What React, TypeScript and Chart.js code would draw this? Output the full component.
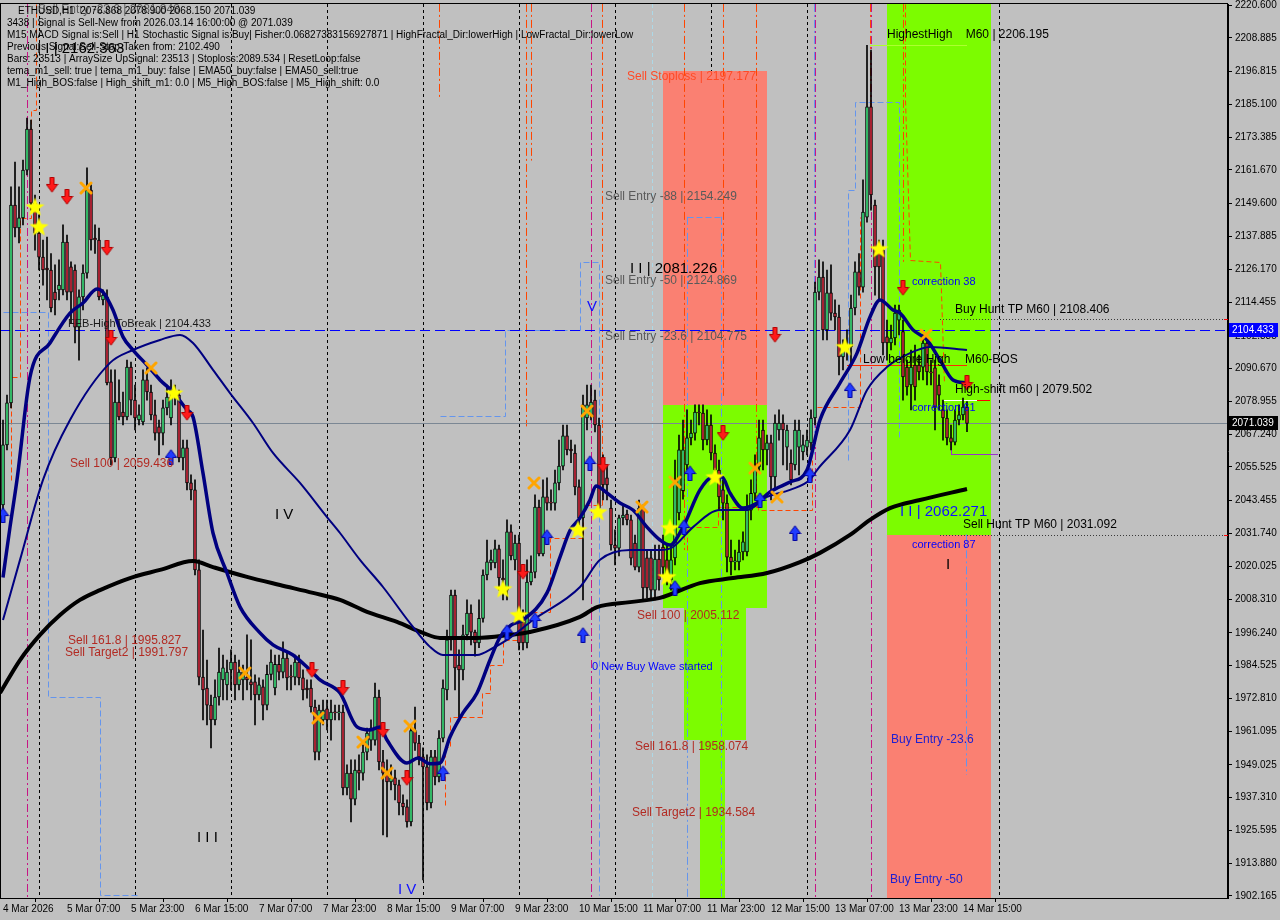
import React, { useEffect, useRef } from "react";
import { Chart, registerables } from "chart.js";

Chart.register(...registerables);

// ---------- axis data ----------
const xTickIdx = [0, 16, 32, 48, 64, 80, 96, 112, 128, 144, 160, 176, 192, 208, 224, 240];
const xTickText = [
  "4 Mar 2026", "5 Mar 07:00", "5 Mar 23:00", "6 Mar 15:00", "7 Mar 07:00", "7 Mar 23:00",
  "8 Mar 15:00", "9 Mar 07:00", "9 Mar 23:00", "10 Mar 15:00", "11 Mar 07:00", "11 Mar 23:00",
  "12 Mar 15:00", "13 Mar 07:00", "13 Mar 23:00", "14 Mar 15:00",
];
const yTickValues = [
  2220.6, 2208.885, 2196.815, 2185.1, 2173.385, 2161.67, 2149.6, 2137.885, 2126.17, 2114.455,
  2102.385, 2090.67, 2078.955, 2067.24, 2055.525, 2043.455, 2031.74, 2020.025, 2008.31, 1996.24,
  1984.525, 1972.81, 1961.095, 1949.025, 1937.31, 1925.595, 1913.88, 1902.165,
];
const yMin = 1901.45;
const yMax = 2220.96;
const xMin = -0.75;
const xMax = 306.25;

// ---------- candles: [open, high, low, close], one per H1 bar ----------
const ohlc: number[][] = [
  [2041.9, 2072.3, 2040.1, 2063.4], [2063.4, 2081.2, 2061.6, 2078.4], [2078.4, 2155.6, 2076.6, 2149.1], [2149.1, 2164.5, 2137.7, 2140.9],
  [2140.9, 2155.6, 2135.6, 2144.5], [2144.5, 2165.2, 2142.0, 2161.6], [2161.6, 2180.2, 2159.9, 2176.3], [2176.3, 2179.5, 2147.3, 2149.8],
  [2149.8, 2152.7, 2133.0, 2139.1], [2139.1, 2145.6, 2125.9, 2130.5], [2130.5, 2136.6, 2120.5, 2125.9], [2126.6, 2137.7, 2115.2, 2125.9],
  [2125.9, 2131.8, 2110.9, 2112.3], [2118.0, 2127.7, 2109.8, 2115.2], [2118.8, 2129.5, 2115.2, 2120.5], [2118.8, 2142.0, 2117.0, 2135.9],
  [2135.9, 2138.4, 2115.2, 2118.0], [2127.0, 2128.8, 2107.0, 2118.0], [2125.9, 2127.7, 2099.8, 2105.5], [2105.5, 2118.8, 2093.7, 2116.3],
  [2116.3, 2127.7, 2111.6, 2124.8], [2124.8, 2162.4, 2123.0, 2154.5], [2154.5, 2156.3, 2133.0, 2136.6], [2137.3, 2142.0, 2131.8, 2136.6],
  [2136.6, 2140.9, 2115.2, 2116.3], [2115.2, 2118.8, 2113.4, 2116.9], [2116.3, 2118.8, 2084.8, 2085.5], [2085.9, 2090.2, 2056.2, 2058.7],
  [2058.7, 2090.2, 2057.3, 2078.7], [2078.7, 2086.6, 2072.3, 2073.4], [2075.1, 2082.3, 2070.5, 2073.4], [2073.4, 2093.7, 2072.3, 2091.2],
  [2091.2, 2093.0, 2074.1, 2079.4], [2079.4, 2084.8, 2068.7, 2073.0], [2072.3, 2077.7, 2070.5, 2074.1], [2071.6, 2090.2, 2070.5, 2086.6],
  [2086.6, 2090.9, 2079.4, 2082.3], [2082.3, 2084.8, 2072.3, 2074.1], [2074.1, 2079.4, 2065.1, 2067.6], [2069.8, 2072.3, 2059.8, 2067.6],
  [2067.6, 2079.4, 2063.4, 2076.6], [2076.6, 2084.8, 2074.1, 2080.5], [2073.0, 2086.6, 2070.5, 2080.5], [2080.5, 2084.8, 2077.7, 2082.3],
  [2081.2, 2083.0, 2057.3, 2058.7], [2058.7, 2065.1, 2054.4, 2062.3], [2062.3, 2065.1, 2047.3, 2049.8], [2049.8, 2052.7, 2043.7, 2047.3],
  [2047.3, 2050.9, 2016.9, 2018.7], [2018.7, 2022.3, 1977.6, 1980.4], [1980.4, 1997.2, 1965.1, 1975.8], [1976.5, 1986.5, 1963.3, 1970.4],
  [1970.4, 1974.0, 1955.1, 1965.1], [1965.1, 1979.4, 1963.3, 1973.3], [1973.3, 1990.8, 1970.4, 1982.2], [1979.4, 1988.3, 1972.2, 1983.7],
  [1977.6, 1986.5, 1972.2, 1982.2], [1983.0, 1990.1, 1975.8, 1985.8], [1985.8, 1988.3, 1972.2, 1977.6], [1977.6, 1986.5, 1975.8, 1982.2],
  [1979.4, 1984.7, 1972.2, 1982.2], [1980.4, 1995.5, 1975.8, 1979.4], [1978.7, 1993.7, 1972.2, 1977.6], [1978.7, 1981.2, 1963.3, 1974.0],
  [1974.0, 1980.1, 1972.2, 1977.6], [1976.9, 1979.4, 1965.1, 1970.4], [1970.4, 1984.7, 1968.7, 1981.4], [1981.4, 1990.1, 1979.4, 1985.8],
  [1976.5, 1988.3, 1974.0, 1985.0], [1985.0, 1988.3, 1979.4, 1982.2], [1982.2, 1993.0, 1980.1, 1987.2], [1987.2, 1989.0, 1975.8, 1980.1],
  [1980.7, 1984.7, 1975.8, 1980.4], [1980.4, 1988.3, 1977.6, 1985.8], [1985.8, 1988.3, 1977.6, 1980.1], [1980.1, 1983.0, 1972.2, 1975.8],
  [1976.5, 1979.4, 1972.9, 1975.8], [1976.5, 1979.4, 1967.9, 1969.7], [1969.7, 1972.2, 1950.8, 1953.6], [1953.6, 1970.4, 1950.8, 1968.6],
  [1965.1, 1972.2, 1963.3, 1968.6], [1969.1, 1972.2, 1961.5, 1965.1], [1965.1, 1972.2, 1957.9, 1967.9], [1967.9, 1970.4, 1965.1, 1967.6],
  [1967.6, 1970.4, 1965.1, 1967.9], [1967.9, 1970.4, 1938.3, 1940.8], [1940.8, 1949.0, 1938.3, 1946.1], [1946.1, 1950.8, 1928.6, 1936.8],
  [1936.8, 1950.8, 1934.7, 1947.2], [1947.2, 1952.6, 1940.1, 1946.1], [1946.1, 1956.2, 1943.6, 1953.6], [1953.6, 1962.2, 1950.8, 1960.4],
  [1957.9, 1965.1, 1954.2, 1962.2], [1957.9, 1978.3, 1956.1, 1973.3], [1973.3, 1975.8, 1947.2, 1950.1], [1950.1, 1954.2, 1924.0, 1946.1],
  [1946.1, 1950.8, 1923.3, 1942.9], [1942.9, 1949.0, 1940.1, 1944.4], [1944.4, 1947.2, 1936.5, 1941.9], [1941.9, 1943.6, 1931.1, 1935.4],
  [1935.4, 1938.3, 1931.1, 1934.0], [1934.0, 1936.5, 1926.8, 1928.6], [1928.6, 1963.3, 1927.2, 1961.3], [1961.3, 1969.7, 1954.2, 1956.8],
  [1956.8, 1959.6, 1949.0, 1951.9], [1951.9, 1955.1, 1907.9, 1948.3], [1948.3, 1952.6, 1932.9, 1935.4], [1935.4, 1954.2, 1933.6, 1951.9],
  [1951.9, 1954.2, 1941.9, 1944.7], [1944.7, 1961.3, 1942.9, 1958.6], [1958.6, 1979.4, 1957.2, 1976.5], [1975.8, 1997.2, 1972.2, 1993.7],
  [1993.7, 2011.5, 1990.0, 2009.7], [2009.7, 2011.5, 1975.8, 1983.7], [1984.7, 1990.1, 1966.2, 1983.0], [1983.0, 1999.0, 1979.4, 1995.5],
  [1995.5, 2008.0, 1993.7, 2003.3], [2003.3, 2006.2, 1991.9, 1996.5], [1996.5, 1997.2, 1987.9, 1992.6], [1992.6, 2008.0, 1990.9, 2001.4],
  [2001.4, 2018.7, 2000.0, 2016.9], [2016.9, 2029.4, 2015.1, 2021.6], [2021.2, 2025.8, 2018.7, 2022.3], [2021.2, 2029.4, 2019.4, 2026.2],
  [2026.2, 2027.6, 2011.5, 2015.8], [2015.8, 2022.3, 2008.0, 2015.1], [2011.5, 2036.6, 2008.0, 2032.3], [2032.3, 2034.8, 2022.3, 2023.7],
  [2022.3, 2031.2, 2018.7, 2028.3], [2028.3, 2031.2, 1990.1, 1992.6], [2000.1, 2004.4, 1990.1, 1992.6], [1992.6, 2022.3, 1990.8, 2014.4],
  [2014.4, 2023.7, 2013.3, 2017.9], [2017.9, 2045.5, 2015.8, 2041.2], [2041.2, 2043.7, 2023.7, 2024.4], [2024.4, 2050.9, 2023.7, 2044.8],
  [2044.8, 2051.6, 2040.1, 2042.6], [2042.9, 2047.3, 2040.1, 2042.6], [2042.6, 2054.4, 2040.1, 2049.8], [2049.8, 2065.1, 2047.3, 2055.8],
  [2055.8, 2070.5, 2054.4, 2066.6], [2066.6, 2070.5, 2059.8, 2061.6], [2061.9, 2065.1, 2057.0, 2061.2], [2060.5, 2063.4, 2045.5, 2048.4],
  [2048.4, 2050.9, 2034.8, 2037.3], [2037.3, 2081.2, 2008.0, 2077.7], [2073.0, 2084.8, 2068.7, 2077.7], [2074.1, 2084.8, 2072.3, 2078.7],
  [2079.4, 2083.0, 2068.0, 2070.5], [2070.5, 2073.0, 2039.4, 2040.8], [2054.4, 2059.8, 2043.7, 2049.1], [2051.6, 2056.2, 2043.7, 2049.1],
  [2040.8, 2043.7, 2025.8, 2027.6], [2027.6, 2033.0, 2020.5, 2026.5], [2026.5, 2038.3, 2023.7, 2037.3], [2037.3, 2041.9, 2034.8, 2038.3],
  [2038.7, 2040.1, 2034.8, 2036.6], [2036.6, 2038.3, 2020.5, 2022.9], [2028.3, 2031.2, 2018.7, 2019.7], [2019.7, 2043.7, 2018.0, 2040.8],
  [2040.8, 2041.9, 2008.0, 2012.3], [2023.0, 2025.8, 2008.7, 2012.3], [2023.0, 2025.8, 2008.0, 2011.5], [2011.5, 2027.6, 2008.0, 2022.6],
  [2022.6, 2027.6, 2011.5, 2015.1], [2026.9, 2031.2, 2016.9, 2019.7], [2022.3, 2027.6, 2013.3, 2016.9], [2015.1, 2027.6, 2011.5, 2022.3],
  [2023.0, 2058.0, 2020.5, 2050.9], [2039.1, 2066.9, 2036.6, 2061.6], [2047.0, 2072.3, 2044.0, 2061.6], [2056.2, 2075.9, 2054.4, 2065.9],
  [2065.9, 2072.3, 2063.4, 2067.6], [2067.6, 2077.7, 2065.1, 2075.1], [2075.1, 2077.7, 2070.5, 2074.8], [2074.8, 2077.7, 2061.6, 2065.2],
  [2065.2, 2075.9, 2063.4, 2070.5], [2070.5, 2074.1, 2058.0, 2060.5], [2060.5, 2063.4, 2050.9, 2054.4], [2054.4, 2058.0, 2040.1, 2044.8],
  [2047.3, 2050.9, 2036.6, 2042.6], [2042.6, 2045.5, 2018.0, 2023.3], [2023.3, 2029.4, 2016.9, 2021.6], [2021.6, 2025.8, 2018.7, 2021.9],
  [2021.6, 2029.4, 2018.7, 2025.1], [2025.1, 2032.3, 2022.3, 2028.7], [2025.1, 2045.5, 2023.7, 2040.1], [2040.1, 2050.9, 2036.6, 2046.1],
  [2046.1, 2059.8, 2043.7, 2055.5], [2055.5, 2072.3, 2053.7, 2065.9], [2068.7, 2072.3, 2054.4, 2061.6], [2061.6, 2066.9, 2056.2, 2064.1],
  [2064.1, 2066.9, 2043.7, 2051.9], [2051.9, 2074.1, 2047.3, 2071.2], [2068.7, 2075.9, 2065.1, 2071.2], [2071.2, 2074.1, 2056.2, 2068.7],
  [2062.6, 2070.5, 2054.4, 2068.7], [2056.9, 2061.6, 2049.1, 2050.9], [2056.2, 2072.3, 2054.4, 2068.7], [2062.6, 2072.3, 2052.7, 2068.7],
  [2060.9, 2066.9, 2058.0, 2063.4], [2062.6, 2068.7, 2059.8, 2065.1], [2064.1, 2075.9, 2061.6, 2073.0], [2073.0, 2121.6, 2070.5, 2118.0],
  [2118.0, 2129.5, 2115.2, 2123.4], [2123.4, 2128.8, 2100.9, 2104.5], [2104.5, 2125.9, 2100.9, 2117.7], [2117.7, 2127.7, 2108.0, 2110.5],
  [2110.5, 2115.2, 2104.5, 2109.1], [2109.1, 2113.4, 2088.4, 2094.8], [2094.8, 2100.9, 2090.2, 2097.3], [2097.3, 2104.5, 2093.7, 2098.4],
  [2098.4, 2116.9, 2091.9, 2112.3], [2112.3, 2128.8, 2109.8, 2125.2], [2125.2, 2131.8, 2116.9, 2119.8], [2119.8, 2158.1, 2118.0, 2146.6],
  [2144.8, 2206.2, 2143.0, 2184.2], [2184.2, 2204.5, 2147.3, 2152.7], [2149.1, 2150.9, 2116.9, 2127.0], [2134.1, 2136.6, 2115.2, 2127.0],
  [2133.0, 2136.6, 2095.5, 2099.8], [2102.0, 2108.0, 2093.7, 2099.8], [2099.8, 2106.2, 2097.3, 2101.6], [2101.6, 2113.4, 2099.1, 2110.5],
  [2108.0, 2113.4, 2102.7, 2111.6], [2103.9, 2108.0, 2079.4, 2087.7], [2091.2, 2093.7, 2081.2, 2084.1], [2084.8, 2097.3, 2075.9, 2091.2],
  [2091.9, 2099.1, 2079.4, 2084.1], [2091.9, 2095.5, 2086.6, 2089.5], [2091.2, 2102.7, 2086.6, 2099.8], [2099.8, 2100.9, 2084.8, 2089.5],
  [2089.5, 2093.7, 2084.8, 2089.1], [2090.9, 2093.7, 2068.7, 2076.9], [2084.8, 2088.4, 2075.9, 2081.2], [2075.9, 2079.4, 2065.1, 2073.0],
  [2073.0, 2075.9, 2063.4, 2065.9], [2065.9, 2070.5, 2061.6, 2064.4], [2064.4, 2075.9, 2063.4, 2072.3], [2072.3, 2077.7, 2070.5, 2074.1],
  [2074.1, 2080.1, 2072.3, 2076.9], [2076.868, 2078.9, 2068.15, 2071.039],
];

// ---------- moving averages: [bar index, price] ----------
const fastMa: number[][] = [
  [0, 2016.0], [1.75, 2034.0], [3.5, 2050.9], [6.75, 2087.7], [11.75, 2099.8], [16.75, 2110.5], [20, 2114.1], [23.5, 2119.1],
  [25, 2118.0], [27.5, 2111.6], [30, 2102.0], [32.5, 2097.3], [36, 2091.9], [39.25, 2086.6], [42.5, 2082.3], [46, 2075.9],
  [47.5, 2073.4], [50, 2053.3], [52.5, 2031.9], [56, 2017.6], [59.25, 2005.5], [64.25, 1996.2], [67.5, 1991.9], [72.5, 1988.3],
  [76, 1984.0], [79.25, 1979.4], [84.25, 1974.7], [88.5, 1962.6], [91.75, 1961.5], [94.25, 1962.6], [96, 1957.9], [101, 1949.7],
  [103.75, 1951.5], [106.75, 1949.4], [109.25, 1949.7], [111.75, 1959.0], [115, 1967.6], [118.5, 1974.7], [121.75, 1986.5],
  [124.25, 1994.7], [127, 1999.0], [130, 2000.8], [136, 2010.5], [139.25, 2023.3], [141.75, 2032.8], [144.25, 2037.3],
  [146.75, 2043.7], [148.25, 2048.7], [151, 2046.2], [154.25, 2042.6], [157.5, 2040.1], [161, 2034.0], [164.25, 2029.4],
  [166.75, 2027.6], [170, 2034.0], [174.25, 2047.3], [177.5, 2051.9], [179.75, 2051.9], [181.75, 2046.2], [185, 2040.8],
  [188.5, 2042.6], [191.75, 2046.6], [196.75, 2050.1], [201, 2054.4], [204.25, 2072.3], [209.25, 2085.5], [213.5, 2096.2],
  [216.75, 2109.1], [219.25, 2115.2], [222.5, 2111.6], [224.25, 2110.5], [227.5, 2104.5], [231, 2100.9], [234.25, 2093.7],
  [237.5, 2086.6], [241, 2085.5],
];
const slowMa: number[][] = [
  [0, 2000.8], [4.25, 2022.3], [10, 2050.9], [16.75, 2072.3], [26.75, 2092.7], [32.5, 2097.3], [39.25, 2100.9], [44.25, 2102.7],
  [47.5, 2099.8], [52.5, 2090.2], [56.75, 2081.9], [62.5, 2071.2], [67.5, 2060.5], [74.25, 2049.8], [81, 2037.6], [84.25, 2031.9],
  [89.25, 2022.3], [95, 2012.6], [101.75, 1999.7], [106.75, 1991.2], [110, 1988.3], [118.5, 1988.3], [122.5, 1990.8], [126, 1993.7],
  [132.5, 2000.8], [144.25, 2012.6], [149.25, 2022.3], [156.75, 2025.8], [164.25, 2025.8], [167.5, 2026.9], [172.5, 2034.0],
  [179.25, 2040.1], [186, 2040.1], [191, 2044.8], [196.75, 2047.3], [201.75, 2050.9], [203.5, 2054.4], [211.75, 2068.7],
  [216, 2083.0], [221, 2091.2], [226.75, 2096.2], [231.75, 2098.4], [241, 2097.3],
];
const longMa: number[][] = [
  [-0.75, 1974.7], [4.25, 1986.5], [9.25, 1995.5], [14.25, 2002.6], [19.25, 2008.0], [24.25, 2011.5], [31.75, 2015.8],
  [39.25, 2018.7], [47.5, 2021.9], [52.5, 2019.7], [61, 2016.2], [69.25, 2013.3], [77.5, 2010.5], [84.25, 2008.0], [91, 2003.7],
  [98.5, 2000.1], [105, 1996.2], [109.25, 1994.4], [118.5, 1994.4], [126.75, 1995.5], [131.75, 1996.5], [144.25, 2001.9],
  [148.5, 2005.4], [156.75, 2007.2], [164.25, 2008.7], [174.25, 2014.0], [182.5, 2015.8], [191, 2017.6], [199.25, 2021.5],
  [204.25, 2024.8], [211.75, 2031.2], [216.75, 2036.6], [221.75, 2040.8], [229.25, 2043.7], [241, 2047.6],
];

// ---------- signal markers: [bar index, price] ----------
const sellArrows: number[][] = [
  [12.25, 2156.3], [16, 2152.0], [26, 2133.8], [27, 2101.6], [46, 2074.8], [77.25, 1982.9], [85, 1976.5], [95, 1961.5],
  [101, 1944.3], [130, 2018.0], [150, 2056.2], [180, 2067.6], [193, 2102.7], [225, 2119.5], [241, 2085.5],
];
const buyArrows: number[][] = [
  [0, 2038.3], [42, 2059.1], [110, 1946.1], [126, 1996.5], [133, 2000.8], [136, 2030.5], [145, 1995.5], [146.75, 2056.9],
  [168, 2012.3], [170.25, 2034.0], [171.75, 2053.3], [189.25, 2043.7], [198, 2031.9], [201.75, 2052.6], [211.75, 2083.0],
];
const stars: number[][] = [
  [8, 2148.4], [9, 2141.3], [42.75, 2081.9], [125, 2011.9], [129, 2002.6], [143.75, 2033.0], [148.75, 2039.4],
  [166.75, 2033.7], [166, 2016.2], [178, 2051.9], [210.5, 2098.4], [219, 2133.4],
];
const crosses: number[][] = [
  [20.75, 2155.2], [37, 2090.9], [60.5, 1981.9], [78.75, 1965.8], [90, 1957.2], [96, 1946.1], [101.75, 1962.9],
  [132.75, 2049.8], [146, 2075.5], [159.75, 2041.2], [168, 2050.1], [188, 2055.1], [193.5, 2044.8], [230.75, 2102.7],
];

// ---------- zones: [fromIdx, toIdx, lowPrice, highPrice] ----------
const salmonZones: number[][] = [
  [165, 191, 2077.6, 2197.177], [221, 247, 1901, 2031.092],
];
const greenZones: number[][] = [
  [165, 191, 2005.112, 2077.6], [170.25, 185.75, 1958.074, 2005.112], [174.25, 180.5, 1901, 1958.074], [221, 247, 2031.092, 2221],
];

// ---------- levels ----------
const bidPrice = 2071.039;
const breakPrice = 2104.433;
const dottedLevels: number[][] = [[234.25, 306.25, 2108.406], [234.25, 306.25, 2031.092]]; // [from, to, price]
const lowBeforeHigh = [211, 241, 2091.9];
const highestHigh = [216.75, 241, 2206.195];
const highShiftWhite = [235, 243.5, 2079.502];
const highShiftRed = [243.5, 246.75, 2079.502];
const purpleLevel = [237, 248.75, 2060.1];

// ---------- vertical lines ----------
const daySeparators = [9, 33, 57, 81, 105, 129, 153, 177, 201, 225, 249];
const magentaVerticals = [6, 147, 203, 217];
const lightBlueVerticals = [162.25];
const orangeVerticals: number[][] = [ // [idx, fromPrice, toPrice]
  [109, 2221, 2186.7], [130.75, 2221, 2070.0], [132, 2221, 2165.0], [149.75, 2221, 2041.9], [170.25, 2221, 2025.8],
  [180, 2221, 2080.0], [188.25, 2221, 2040.1], [216.75, 2221, 2170.0], [225, 2221, 2128.8],
];
const blueVerticals: number[][] = [
  [171, 2144.9, 1901], [179.5, 2144.9, 1901], [202.75, 2221, 2060.0], [240.75, 2031.4, 1945.4],
];
const orangeSteps: number[][][] = [
  [[2, 2050.9], [2, 2087.7], [4.25, 2087.7], [4.25, 2144.5], [7, 2144.5], [7, 2183.1], [8.25, 2183.1], [8.25, 2221]],
  [[110.5, 1934.7], [110.5, 1955.4], [111.75, 1955.4], [111.75, 1966.2], [119.75, 1966.2], [119.75, 1974.7], [121.75, 1974.7],
   [121.75, 1984.7], [125, 1984.7], [125, 1993.7], [128.75, 1993.7], [128.75, 2003.7], [136.75, 2003.7], [136.75, 2030.1],
   [145, 2030.1], [145, 2041.9], [149.75, 2041.9]],
  [[171, 2025.8], [171, 2034.0], [178.75, 2034.0], [178.75, 2041.2], [188.75, 2041.2], [188.75, 2040.1], [202.25, 2040.1], [202.25, 2058.0]],
  [[203.5, 2076.9], [214.25, 2076.9], [214.25, 2144.8]],
  [[225.5, 2221], [225.5, 2186.7], [226.75, 2129.5], [234.25, 2128.8], [235.25, 2085.5]],
];
const blueSteps: number[][][] = [
  [[0, 2110.9], [11.25, 2110.9], [11.25, 1973.3], [24.25, 1973.3], [24.25, 1902.5], [34.25, 1902.5]],
  [[109.25, 2073.7], [125.5, 2073.7], [125.5, 2104.5], [144.25, 2104.5], [144.25, 2128.8], [149, 2128.8], [149, 1902.5]],
  [[171, 2144.9], [179.5, 2144.9]],
  [[211.25, 2058.0], [211.25, 2154.5], [213, 2154.5], [213, 2185.9], [224, 2185.9], [224, 2065.1]],
];

// ---------- text labels: [text, bar index, price] ----------
const sellLabels: any[] = [
  ["Sell 100 | 2059.436", 16.75, 2056.6], ["Sell 161.8 | 1995.827", 16.25, 1993.3], ["Sell Target2 | 1991.797", 15.5, 1989.0],
  ["Sell 100 | 2005.112", 158.5, 2002.2], ["Sell 161.8 | 1958.074", 158, 1955.4], ["Sell Target2 | 1934.584", 157.25, 1931.8],
];
const stoplossLabels: any[] = [["Sell Stoploss | 2197.177", 156, 2194.9]];
const entryLabels: any[] = [
  ["Sell Entry -23.6 | 2081.848", 8.75, 2219.0],
  ["Sell Entry -88 | 2154.249", 150.5, 2152.0], ["Sell Entry -50 | 2124.869", 150.5, 2121.9], ["Sell Entry -23.6 | 2104.775", 150.5, 2101.9],
];
const blackLabels: any[] = [
  ["FEB-HighToBreak | 2104.433", 16.25, 2106.6], ["HighestHigh    M60 | 2206.195", 221, 2209.9],
  ["Buy Hunt TP M60 | 2108.406", 238, 2111.6], ["Low before High", 215, 2093.7], ["M60-BOS", 240.5, 2093.7],
  ["High-shift m60 | 2079.502", 238, 2083.0], ["Sell Hunt TP M60 | 2031.092", 240, 2034.8],
];
const waveLabels: any[] = [
  ["I I | 2162.363", 8.5, 2204.8], ["I I | 2081.226", 156.75, 2126.3], ["I V", 68, 2038.3], ["I I I", 48.5, 1922.9], ["I", 235.75, 2020.5],
];
const blueWaveLabels: any[] = [["I I | 2062.271", 224.25, 2039.4], ["I V", 98.75, 1904.3], ["V", 146, 2112.7]];
const blueSmallLabels: any[] = [
  ["correction 38", 227.25, 2121.6], ["correction 61", 227.25, 2076.6], ["correction 87", 227.25, 2027.6],
  ["0 New Buy Wave started", 147.25, 1984.0],
];
const buyEntryLabels: any[] = [["Buy Entry -23.6", 222, 1957.9], ["Buy Entry -50", 221.75, 1907.9]];

const infoLines = [
  "ETHUSD,H1  2076.868 2078.900 2068.150 2071.039",
  "3438 | Signal is Sell-New from 2026.03.14 16:00:00 @ 2071.039",
  "M15 MACD Signal is:Sell | H1 Stochastic Signal is:Buy| Fisher:0.06827383156927871 | HighFractal_Dir:lowerHigh | LowFractal_Dir:lowerLow",
  "Previous Signal:Sell-Stop-Taken from: 2102.490",
  "Bars: 23513 | ArraySize UpSignal: 23513 | Stoploss:2089.534 | ResetLoop:false",
  "tema_m1_sell: true | tema_m1_buy: false | EMA50_buy:false | EMA50_sell:true",
  "M1_High_BOS:false | High_shift_m1: 0.0 | M5_High_BOS:false | M5_High_shift: 0.0",
];

const FONT = '"Liberation Sans", Arial, sans-serif';

function makeArrow(fill: string, edge: string, up: boolean) {
  const c = document.createElement("canvas");
  c.width = 13; c.height = 16;
  const g = c.getContext("2d")!;
  if (up) { g.translate(0, 16); g.scale(1, -1); }
  g.beginPath();
  g.moveTo(4.5, 0.5); g.lineTo(8.5, 0.5); g.lineTo(8.5, 7.5); g.lineTo(12.2, 7.5);
  g.lineTo(6.5, 15.2); g.lineTo(0.8, 7.5); g.lineTo(4.5, 7.5); g.closePath();
  g.fillStyle = fill; g.fill();
  g.strokeStyle = edge; g.lineWidth = 1; g.stroke();
  return c;
}
function makeStar() {
  const c = document.createElement("canvas");
  c.width = 21; c.height = 21;
  const g = c.getContext("2d")!;
  g.beginPath();
  for (let k = 0; k < 10; k++) {
    const r = k % 2 === 0 ? 10 : 4.2;
    const a = -Math.PI / 2 + (k * Math.PI) / 5;
    const px = 10.5 + r * Math.cos(a), py = 11 + r * Math.sin(a);
    if (k === 0) g.moveTo(px, py); else g.lineTo(px, py);
  }
  g.closePath();
  g.fillStyle = "#ffff00"; g.fill();
  return c;
}
function makeCross() {
  const c = document.createElement("canvas");
  c.width = 14; c.height = 14;
  const g = c.getContext("2d")!;
  g.strokeStyle = "#ffa500"; g.lineWidth = 3; g.lineCap = "round";
  g.beginPath(); g.moveTo(2, 2); g.lineTo(12, 12); g.moveTo(12, 2); g.lineTo(2, 12); g.stroke();
  return c;
}

const overlay = {
  id: "mt4overlay",
  beforeDraw(chart: any) {
    const { ctx, width, height } = chart;
    ctx.save();
    ctx.fillStyle = "#c0c0c0";
    ctx.fillRect(0, 0, width, height);
    ctx.restore();
  },
  beforeDatasetsDraw(chart: any) {
    const { ctx, chartArea: a, scales } = chart;
    const X = (v: number) => scales.x.getPixelForValue(v);
    const Y = (v: number) => scales.y.getPixelForValue(v);
    const sx = (v: number) => Math.round(X(v)) + 0.5;
    const sy = (v: number) => Math.round(Y(v)) + 0.5;
    ctx.save();
    ctx.beginPath();
    ctx.rect(a.left, a.top, a.right - a.left, a.bottom - a.top);
    ctx.clip();
    ctx.lineWidth = 1;
    const vline = (i: number, p1: number, p2: number, color: string, dash: number[]) => {
      ctx.strokeStyle = color; ctx.setLineDash(dash);
      ctx.beginPath(); ctx.moveTo(sx(i), Y(p1)); ctx.lineTo(sx(i), Y(p2)); ctx.stroke();
    };
    const hline = (i1: number, i2: number, p: number, color: string, dash: number[], w = 1) => {
      ctx.strokeStyle = color; ctx.setLineDash(dash); ctx.lineWidth = w;
      ctx.beginPath(); ctx.moveTo(X(i1), sy(p)); ctx.lineTo(X(i2), sy(p)); ctx.stroke();
      ctx.lineWidth = 1;
    };
    const poly = (pts: number[][], color: string, dash: number[]) => {
      ctx.strokeStyle = color; ctx.setLineDash(dash);
      ctx.beginPath();
      pts.forEach((q, k) => { if (k === 0) ctx.moveTo(sx(q[0]), sy(q[1])); else ctx.lineTo(sx(q[0]), sy(q[1])); });
      ctx.stroke();
    };
    daySeparators.forEach((i) => vline(i, yMax, yMin, "#000000", [3, 3]));
    const zone = (z: number[], color: string) => {
      ctx.fillStyle = color;
      const x1 = Math.round(X(z[0])), x2 = Math.round(X(z[1]));
      const y1 = Math.round(Y(z[3])), y2 = Math.round(Y(z[2]));
      ctx.fillRect(x1, y1, x2 - x1, y2 - y1);
    };
    salmonZones.forEach((z) => zone(z, "#fa8072"));
    greenZones.forEach((z) => zone(z, "#7cfc00"));
    magentaVerticals.forEach((i) => vline(i, yMax, yMin, "#c71585", [8, 3, 2, 3]));
    lightBlueVerticals.forEach((i) => vline(i, yMax, yMin, "#add8e6", [4, 3]));
    orangeVerticals.forEach((v) => vline(v[0], v[1], v[2], "#ff4500", [8, 3, 2, 3]));
    blueVerticals.forEach((v) => vline(v[0], v[1], v[2], "#6495ed", [8, 3, 2, 3]));
    orangeSteps.forEach((s) => poly(s, "#ff4500", [5, 3]));
    blueSteps.forEach((s) => poly(s, "#6495ed", [6, 3]));
    hline(xMin, xMax, bidPrice, "#7b8794", []);
    hline(xMin, xMax, breakPrice, "#0000ff", [10, 5]);
    dottedLevels.forEach((d) => hline(d[0], d[1], d[2], "#3a3a3a", [1, 2]));
    hline(lowBeforeHigh[0], lowBeforeHigh[1], lowBeforeHigh[2], "#ff2a00", []);
    hline(highestHigh[0], highestHigh[1], highestHigh[2], "#adff2f", []);
    hline(highShiftWhite[0], highShiftWhite[1], highShiftWhite[2], "#ffffff", []);
    hline(highShiftRed[0], highShiftRed[1], highShiftRed[2], "#ff0000", []);
    hline(purpleLevel[0], purpleLevel[1], purpleLevel[2], "#9932cc", []);
    vline(purpleLevel[0], 2064.4, purpleLevel[2], "#9932cc", []);
    ctx.restore();
  },
  afterDatasetsDraw(chart: any) {
    const { ctx, chartArea: a, scales } = chart;
    const X = (v: number) => scales.x.getPixelForValue(v);
    const Y = (v: number) => scales.y.getPixelForValue(v);
    ctx.save();
    ctx.beginPath();
    ctx.rect(a.left, a.top, a.right - a.left, a.bottom - a.top);
    ctx.clip();
    ctx.textAlign = "left";
    ctx.textBaseline = "middle";
    const put = (list: any[], color: string, size: number) => {
      ctx.fillStyle = color;
      ctx.font = `${size}px ${FONT}`;
      list.forEach((t) => ctx.fillText(t[0], X(t[1]), Y(t[2])));
    };
    put(entryLabels, "#5a5a5a", 12);
    put(sellLabels, "#b22a22", 12);
    put(stoplossLabels, "#ff4a26", 12);
    put(blackLabels.slice(0, 1), "#1a1a1a", 11);
    put(blackLabels.slice(1), "#000000", 12);
    put(waveLabels, "#000000", 15);
    put(blueWaveLabels, "#1010ff", 15);
    put(blueSmallLabels, "#0000ff", 11);
    put(buyEntryLabels, "#2020d0", 12);
    ctx.restore();
  },
  afterDraw(chart: any) {
    const { ctx, chartArea: a, scales } = chart;
    const Y = (v: number) => scales.y.getPixelForValue(v);
    ctx.save();
    ctx.strokeStyle = "#000000";
    ctx.lineWidth = 1;
    ctx.strokeRect(a.left + 0.5, a.top - 0.5, a.right - a.left - 1, a.bottom - a.top + 1);
    ctx.fillStyle = "#000000";
    ctx.font = `10px ${FONT}`;
    ctx.textAlign = "left";
    ctx.textBaseline = "middle";
    infoLines.forEach((s, k) => ctx.fillText(s, k === 0 ? 18 : 7, 11 + k * 12));
    const box = (p: number, bg: string) => {
      const yy = Math.round(Y(p));
      ctx.fillStyle = bg;
      ctx.fillRect(a.right + 1, yy - 7, 49, 14);
      ctx.fillStyle = "#ffffff";
      ctx.font = `10px ${FONT}`;
      ctx.fillText(p.toFixed(3), a.right + 4, yy);
    };
    box(breakPrice, "#0000ff");
    box(bidPrice, "#000000");
    ctx.strokeStyle = "#ff0000";
    dottedLevels.forEach((d) => {
      const yy = Math.round(Y(d[2])) + 0.5;
      ctx.beginPath(); ctx.moveTo(a.right - 4, yy); ctx.lineTo(a.right, yy); ctx.stroke();
    });
    ctx.restore();
  },
};

export default function App() {
  const ref = useRef<HTMLCanvasElement>(null);
  useEffect(() => {
    const canvas = ref.current!;
    const redArrow = makeArrow("#ff1a1a", "#b00000", false);
    const blueArrow = makeArrow("#1f3bff", "#0000a0", true);
    const star = makeStar();
    const cross = makeCross();

    const bodyColors = ohlc.map((c) => (c[3] >= c[0] ? "#3ddc7a" : "#c8283c"));
    const toXY = (arr: number[][]) => arr.map((q) => ({ x: q[0], y: q[1] }));

    const chart = new Chart(canvas, {
      type: "line",
      data: {
        datasets: [
          {
            type: "bar",
            data: ohlc.map((c, i) => ({ x: i, y: [c[2], c[1]] })) as any,
            backgroundColor: "#000000",
            barThickness: 1,
            grouped: false,
            order: 20,
          } as any,
          {
            type: "bar",
            data: ohlc.map((c, i) => ({ x: i, y: [c[0], c[3]] })) as any,
            backgroundColor: bodyColors,
            borderColor: "#000000",
            borderWidth: 1,
            borderSkipped: false,
            barThickness: 3,
            minBarLength: 1,
            grouped: false,
            order: 19,
          } as any,
          {
            type: "line",
            data: toXY(longMa),
            borderColor: "#000000",
            borderWidth: 4,
            pointRadius: 0,
            cubicInterpolationMode: "monotone",
            order: 10,
          } as any,
          {
            type: "line",
            data: toXY(slowMa),
            borderColor: "#000080",
            borderWidth: 2,
            pointRadius: 0,
            cubicInterpolationMode: "monotone",
            order: 9,
          } as any,
          {
            type: "line",
            data: toXY(fastMa),
            borderColor: "#000080",
            borderWidth: 3.5,
            pointRadius: 0,
            cubicInterpolationMode: "monotone",
            order: 8,
          } as any,
          { type: "scatter", data: toXY(crosses), pointStyle: cross, order: 4 } as any,
          { type: "scatter", data: toXY(stars), pointStyle: star, order: 3 } as any,
          { type: "scatter", data: toXY(sellArrows), pointStyle: redArrow, order: 2 } as any,
          { type: "scatter", data: toXY(buyArrows), pointStyle: blueArrow, order: 1 } as any,
        ],
      },
      options: {
        responsive: false,
        devicePixelRatio: 1,
        animation: false,
        events: [],
        layout: { padding: { top: 4, left: 0, right: 0, bottom: 0 }, autoPadding: false },
        plugins: { legend: { display: false }, tooltip: { enabled: false } },
        scales: {
          x: {
            type: "linear",
            min: xMin,
            max: xMax,
            offset: false,
            afterBuildTicks: (s: any) => { s.ticks = xTickIdx.map((v) => ({ value: v })); },
            afterFit: (s: any) => { s.height = 22; s.paddingLeft = 0; s.paddingRight = 0; },
            ticks: {
              autoSkip: false,
              maxRotation: 0,
              align: "start",
              padding: 1,
              color: "#000000",
              font: { family: FONT, size: 10 },
              callback: (_v: any, idx: number) => xTickText[idx],
            },
            grid: { drawOnChartArea: false, drawTicks: true, tickLength: 4, color: "#000000" },
            border: { display: true, color: "#000000" },
          } as any,
          y: {
            type: "linear",
            position: "right",
            min: yMin,
            max: yMax,
            afterBuildTicks: (s: any) => { s.ticks = yTickValues.map((v) => ({ value: v })); },
            afterFit: (s: any) => { s.width = 52; s.paddingTop = 0; s.paddingBottom = 0; },
            ticks: {
              autoSkip: false,
              crossAlign: "near",
              padding: 3,
              color: "#000000",
              font: { family: FONT, size: 10 },
              callback: (v: any) => Number(v).toFixed(3),
            },
            grid: { drawOnChartArea: false, drawTicks: true, tickLength: 4, color: "#000000" },
            border: { display: true, color: "#000000" },
          } as any,
        },
      } as any,
      plugins: [overlay as any],
    });
    return () => chart.destroy();
  }, []);
  return (
    <div style={{ position: "absolute", left: 0, top: 0, width: 1280, height: 920 }}>
      <canvas ref={ref} width={1280} height={920} style={{ display: "block", width: 1280, height: 920 }} />
    </div>
  );
}
